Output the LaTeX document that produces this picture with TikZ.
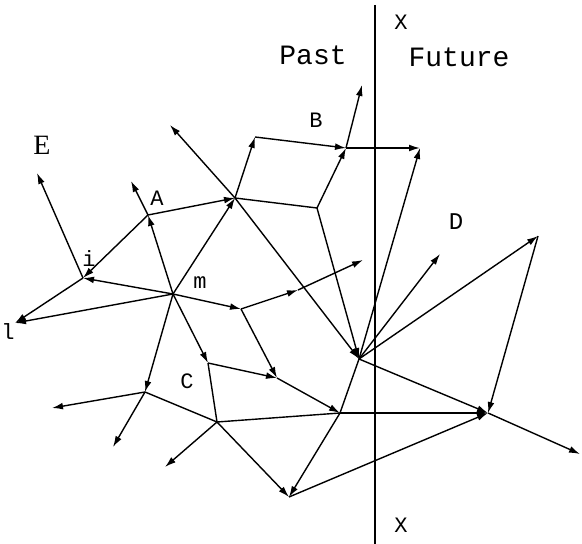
\documentclass[tikz,border=0pt]{standalone}
\usepackage{fontspec}
\setmainfont{Liberation Serif}
\newfontfamily\pixfont{Liberation Mono}
\usetikzlibrary{arrows.meta}

\tikzset{
  flow/.style={line width=0.7pt, -{Latex[length=5.5pt,width=3.4pt]}},
  link/.style={line width=0.7pt},
  nowline/.style={line width=1pt},
  tag/.style={font=\pixfont\fontsize{11}{11}\selectfont, inner sep=0pt},
  side/.style={font=\pixfont\fontsize{14}{14}\selectfont, inner sep=0pt},
}

\begin{document}
\begin{tikzpicture}[x=0.5pt,y=-0.5pt]
    \useasboundingbox (0,0) rectangle (582,544);

    % the present, X--X
    \coordinate (xtop) at (375,5);
    \coordinate (xbot) at (375,544);
    \draw[nowline] (xtop) -- (xbot);

    % events
    \coordinate (i) at (83,278);
    \coordinate (a) at (148,215);
    \coordinate (n) at (235,198);
    \coordinate (m) at (173,294);
    \coordinate (p) at (241,309);
    \coordinate (k) at (298,290);
    \coordinate (q) at (317,208);
    \coordinate (bl) at (255,137);
    \coordinate (bm) at (346,148);
    \coordinate (br) at (420,148);
    \coordinate (s) at (359,359);
    \coordinate (r) at (538,236);
    \coordinate (t) at (488,413);
    \coordinate (u) at (340,413);
    \coordinate (v) at (289,497);
    \coordinate (w) at (208,363);
    \coordinate (g) at (277,378);
    \coordinate (y) at (145,392);
    \coordinate (z) at (217,422);

    % loose ends
    \coordinate (etip) at (37,173);
    \coordinate (ltip) at (15,323);
    \coordinate (atip) at (131,181);
    \coordinate (ntip) at (170,125);
    \coordinate (btip) at (362,85);
    \coordinate (ptip) at (363,260);
    \coordinate (dtip) at (440,254);
    \coordinate (ytip1) at (52,408);
    \coordinate (ytip2) at (113,447);
    \coordinate (ztip) at (165,467);
    \coordinate (ttip) at (580,454);

    % influences
    \draw[flow] (i) -- (etip);
    \draw[flow] (a) -- (i);
    \draw[flow] (m) -- (i);
    \draw[flow] (i) -- (ltip);
    \draw[flow] (m) -- (ltip);
    \draw[flow] (m) -- (a);
    \draw[flow] (a) -- (atip);
    \draw[flow] (a) -- (n);
    \draw[flow] (m) -- (n);
    \draw[flow] (n) -- (bl);
    \draw[flow] (bl) -- (bm);
    \draw[flow] (bm) -- (br);
    \draw[flow] (q) -- (bm);
    \draw[flow] (bm) -- (btip);
    \draw[flow] (n) -- (ntip);
    \draw[flow] (n) -- (s);
    \draw[flow] (q) -- (s);
    \draw[flow] (m) -- (p);
    \draw[flow] (p) -- (k);
    \draw[flow] (k) -- (ptip);
    \draw[flow] (p) -- (g);
    \draw[flow] (m) -- (w);
    \draw[flow] (w) -- (g);
    \draw[flow] (g) -- (u);
    \draw[flow] (u) -- (v);
    \draw[flow] (m) -- (y);
    \draw[flow] (y) -- (ytip1);
    \draw[flow] (y) -- (ytip2);
    \draw[flow] (z) -- (ztip);
    \draw[flow] (z) -- (v);
    \draw[flow] (u) -- (t);
    \draw[flow] (v) -- (t);
    \draw[flow] (s) -- (t);
    \draw[flow] (r) -- (t);
    \draw[flow] (s) -- (r);
    \draw[flow] (s) -- (dtip);
    \draw[flow] (s) -- (br);
    \draw[flow] (t) -- (ttip);
    \draw[link] (n) -- (q);
    \draw[link] (s) -- (u);
    \draw[link] (w) -- (z);
    \draw[link] (y) -- (z);
    \draw[link] (z) -- (u);

    % labels
    \node[tag] (xup) at (401,22) {X};
    \node[tag] (xdown) at (401,525) {X};
    \node[side] (past) at (313,55) {Past};
    \node[side] (future) at (459,57) {Future};
    \node[tag] (lb) at (316,120) {B};
    \node[font=\fontsize{14}{14}\selectfont, inner sep=0pt] (le) at (42,145) {E};
    \node[tag] (la) at (157,198) {A};
    \node[tag] (li) at (89,259) {i};
    \node[tag] (lm) at (200,283) {m};
    \node[tag, font=\pixfont\fontsize{12}{12}\selectfont] (ld) at (456,222) {D};
    \node[tag] (lc) at (187,381) {C};
    \node[tag] (ll) at (8,332) {l};
\end{tikzpicture}
\end{document}
